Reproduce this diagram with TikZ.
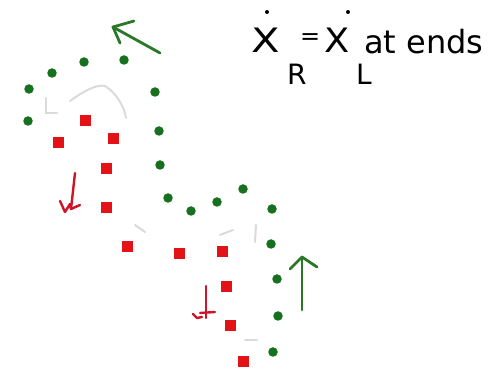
\documentclass[tikz,border=0pt]{standalone}
\usepackage{fontspec}
\setmainfont{DejaVu Sans}
\definecolor{dotgreen}{RGB}{22,112,30}
\definecolor{sqred}{RGB}{226,18,22}
\definecolor{penred}{RGB}{205,20,40}
\definecolor{pengreen}{RGB}{40,120,40}
\definecolor{faint}{RGB}{218,218,222}
\tikzset{
  gdot/.style={circle,fill=dotgreen,inner sep=0pt,minimum size=9.5pt},
  rsq/.style={rectangle,fill=sqred,inner sep=0pt,minimum size=11pt},
  redpen/.style={draw=penred,line width=2.4pt,line cap=round,line join=round},
  greenpen/.style={draw=pengreen,line width=2.8pt,line cap=round,line join=round},
  ghost/.style={draw=faint,line width=2pt,line cap=round},
  tdot/.style={circle,fill=black,inner sep=0pt,minimum size=4pt},
  txt/.style={inner sep=0pt,anchor=base west,font=\fontsize{32}{36}\selectfont}
}
\begin{document}
\begin{tikzpicture}[x=1pt,y=-1pt]
\useasboundingbox (0,0) rectangle (491,374);
% green dots
\foreach \n/\x/\y in {g1/84/62,g2/124/60,g3/52/73,g4/29/89,g5/155/92,g6/28/121,g7/159/131,g8/160/165,g9/168/198,g10/191/211,g11/217/202,g12/243/189,g13/272/209,g14/271/244,g15/277/279,g16/278/316,g17/273/352}
  \node[gdot] (\n) at (\x,\y) {};
% red squares
\foreach \n/\x/\y in {r1/85/121,r2/58/143,r3/113/139,r4/106/169,r5/106/208,r6/127/247,r7/179/254,r8/222/252,r9/226/287,r10/230/326,r11/243/362}
  \node[rsq] (\n) at (\x,\y) {};
% faint erased marks
\draw[ghost] (46,98) -- (46,113) -- (57,113);
\draw[ghost] (70,101) .. controls (85,90) and (98,84) .. (105,86) .. controls (115,92) and (124,105) .. (126,118);
\draw[ghost] (135,225) -- (145,232);
\draw[ghost] (220,235) -- (233,230);
\draw[ghost] (256,225) -- (255,242);
\draw[ghost] (245,340) -- (257,340);
% green arrows
\coordinate (ga1t) at (160,53); \coordinate (ga1h) at (113,27);
\draw[greenpen] (ga1t) -- (ga1h);
\draw[greenpen] (134,21) -- (ga1h) -- (120,43);
\coordinate (ga2t) at (302,310); \coordinate (ga2h) at (302,257);
\draw[greenpen] (ga2t) -- (ga2h);
\draw[greenpen] (290,269) -- (ga2h) -- (317,267);
% red arrows
\coordinate (ra1t) at (75,173); \coordinate (ra1h) at (71,209);
\draw[redpen] (ra1t) -- (ra1h);
\draw[redpen] (60,201) -- (65,212) -- (70,204) -- (ra1h) -- (80,205);
\coordinate (ra2t) at (206,286); \coordinate (ra2h) at (206,318);
\draw[redpen] (ra2t) -- (ra2h);
\draw[redpen] (200,313) -- (215,312);
\draw[redpen] (193,314) -- (197,318) -- (202,317);
% text
\node[txt] (x1) at (251,53) {\scalebox{1.3}[1.05]{X}};
\node[tdot] (d1) at (267,12) {};
\node[txt,font=\fontsize{28}{32}\selectfont] (sR) at (287,85) {R};
\node[txt,font=\fontsize{24}{28}\selectfont] (eq) at (300,45) {=};
\node[txt] (x2) at (324,53) {\scalebox{1.15}[1.05]{X}};
\node[tdot] (d2) at (348,12) {};
\node[txt,font=\fontsize{28}{32}\selectfont] (sL) at (356,85) {L};
\node[txt] (ends) at (364,54) {at ends};
\end{tikzpicture}
\end{document}
